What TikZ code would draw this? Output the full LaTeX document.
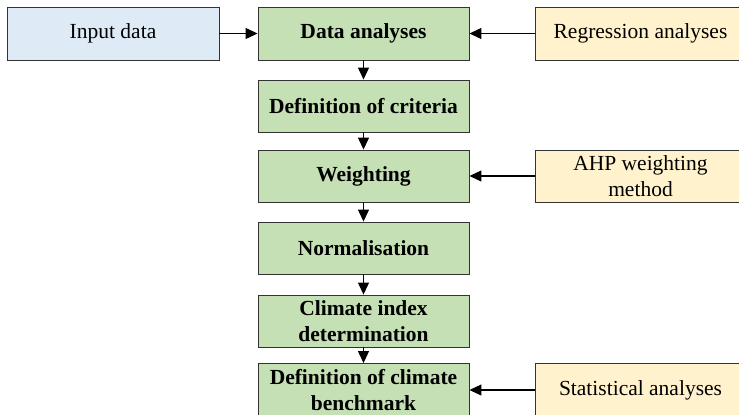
\documentclass[tikz,border=0pt]{standalone}
\usepackage{fontspec}
\setmainfont{Liberation Serif}
\usetikzlibrary{arrows.meta}
\definecolor{boxblue}{HTML}{DEEAF6}
\definecolor{boxgreen}{HTML}{C5E0B4}
\definecolor{boxyellow}{HTML}{FFF2CC}
\definecolor{boxline}{HTML}{333333}
\tikzset{
  basebox/.style={draw=boxline, line width=0.9pt, minimum width=211pt, minimum height=52pt,
    inner sep=0pt, align=center, font=\fontsize{21.5}{25.8}\selectfont},
  inbox/.style={basebox, fill=boxblue},
  stepbox/.style={basebox, fill=boxgreen, font=\fontsize{21.5}{25.8}\selectfont\bfseries},
  sidebox/.style={basebox, fill=boxyellow},
  conn/.style={line width=1.1pt, -{Triangle[length=12pt,width=11pt]}}
}
\begin{document}
\begin{tikzpicture}[x=1pt,y=-1pt]
\clip (0,0) rectangle (739,415);
\fill[white] (0,0) rectangle (739,415);
\node[inbox, minimum width=212pt, minimum height=53pt] (in) at (113,33.5) {Input data};
\node[stepbox, minimum height=53pt] (da) at (363.5,33.5) {Data analyses};
\node[sidebox, minimum height=53pt] (reg) at (640.5,33.5) {Regression analyses};
\node[stepbox] (dc) at (363.5,106) {Definition of criteria};
\node[stepbox] (w) at (363.5,176) {Weighting};
\node[sidebox] (ahp) at (640.5,176) {AHP weighting\\method};
\node[stepbox] (n) at (363.5,248) {Normalisation};
\node[stepbox] (ci) at (363.5,321) {Climate index\\determination};
\node[stepbox, minimum height=53pt] (dcb) at (363.5,390) {Definition of climate\\benchmark};
\node[sidebox, minimum height=53pt] (sa) at (640.5,390) {Statistical analyses};
\draw[conn] (in) -- (da);
\draw[conn] (reg) -- (da);
\draw[conn] (ahp) -- (w);
\draw[conn] (sa) -- (dcb);
\draw[conn] (da) -- (dc);
\draw[conn] (dc) -- (w);
\draw[conn] (w) -- (n);
\draw[conn] (n) -- (ci);
\draw[conn] (ci) -- (dcb);
\end{tikzpicture}
\end{document}
